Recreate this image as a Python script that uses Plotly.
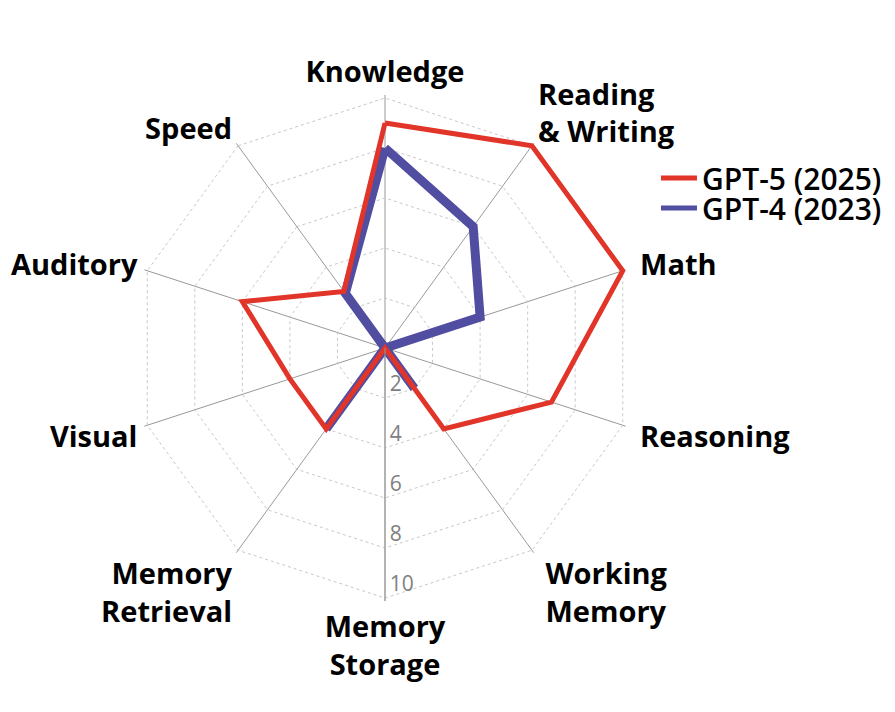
import plotly.graph_objects as go

categories = ["Knowledge", "Reading<br>& Writing", "Math", "Reasoning", "Working<br>Memory",
              "Memory<br>Storage", "Memory<br>Retrieval", "Visual", "Auditory", "Speed"]
gpt5_values = [9, 10, 10, 7, 4, 0, 4, 4, 6, 2.8]
gpt4_values = [8, 6, 4, 0, 2, 0, 4, 0, 0, 2.7]
radial_ticks = [2, 4, 6, 8, 10]

RED = "#E2352A"
BLUE = "#514DA0"

W, H = 895, 712
# page body has an 8px margin, so shift the target centre accordingly
cx, cy, R10 = 377, 340, 250          # centre and pixel radius of the value 10
RMAX = 10.12                          # a little head-room so lines at 10 are not clipped
R = R10 * RMAX / 10

# right-hand labels get a little extra spacing from the polygon
right_side = {"Math", "Reasoning", "Working<br>Memory"}
def label(c):
    if c in right_side:
        return "<br>".join("\u00a0" + part for part in c.split("<br>"))
    return c
ticktext = [label(c) for c in categories]

fig = go.Figure()
fig.add_trace(go.Scatterpolar(
    r=gpt4_values + gpt4_values[:1], theta=categories + categories[:1],
    mode="lines", name="GPT-4 (2023)", showlegend=False,
    line=dict(color=BLUE, width=9),
))
fig.add_trace(go.Scatterpolar(
    r=gpt5_values + gpt5_values[:1], theta=categories + categories[:1],
    mode="lines", name="GPT-5 (2025)", showlegend=False,
    line=dict(color=RED, width=5),
))
# legend entries (thin sample lines as in the original)
fig.add_trace(go.Scatterpolar(r=[None], theta=[categories[0]], mode="lines",
                              name="GPT-5 (2025)", legend="legend",
                              line=dict(color=RED, width=5)))
fig.add_trace(go.Scatterpolar(r=[None], theta=[categories[0]], mode="lines",
                              name="GPT-4 (2023)", legend="legend2",
                              line=dict(color=BLUE, width=5)))

legend_font = dict(family="Open Sans", size=30, color="black", weight=600)
fig.update_layout(
    width=W, height=H,
    margin=dict(l=0, r=0, t=0, b=0),
    paper_bgcolor="white", plot_bgcolor="white",
    font=dict(family="Open Sans", color="black"),
    polar=dict(
        domain=dict(x=[(cx - R) / W, (cx + R) / W], y=[(H - cy - R) / H, (H - cy + R) / H]),
        gridshape="linear",
        bgcolor="white",
        angularaxis=dict(
            direction="clockwise", rotation=90,
            showline=False,
            gridcolor="#999999", gridwidth=1,
            tickmode="array", tickvals=categories, ticktext=ticktext,
            ticks="outside", ticklen=1, tickcolor="rgba(0,0,0,0)",
            tickfont=dict(family="Open Sans", size=29, color="black", weight="bold"),
        ),
        radialaxis=dict(
            range=[0, RMAX], angle=270, tickangle=-90,
            tickvals=radial_ticks, ticktext=[f"{v}<br> " for v in radial_ticks],
            showline=True, linecolor="#999999", linewidth=1,
            gridcolor="#c8c8c8", gridwidth=1, griddash="3px,3px",
            ticks="", side="counterclockwise",
            tickfont=dict(family="Open Sans", size=21, color="#808080"),
        ),
    ),
    showlegend=True,
    legend=dict(
        x=0.724, y=1 - 144 / H, xanchor="left", yanchor="top",
        font=legend_font, bgcolor="rgba(0,0,0,0)", itemwidth=36,
    ),
    legend2=dict(
        x=0.724, y=1 - 174 / H, xanchor="left", yanchor="top",
        font=legend_font, bgcolor="rgba(0,0,0,0)", itemwidth=36,
    ),
)

fig.write_html("out.html")
